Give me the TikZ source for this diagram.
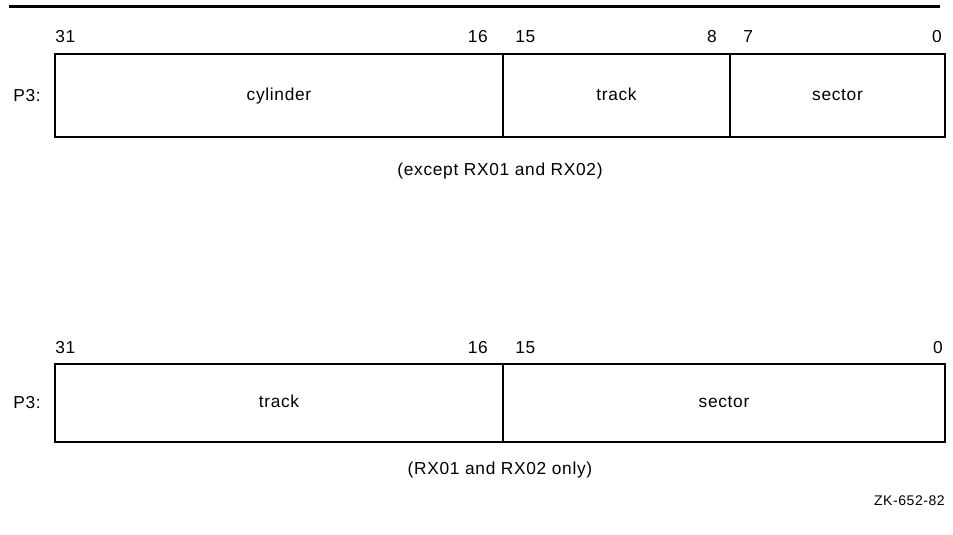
\documentclass[tikz,border=0pt]{standalone}
\usepackage{fontspec}
\setmainfont{Liberation Sans}[LetterSpace=4]
\usetikzlibrary{positioning}
\tikzset{
  field/.style={draw,line width=1.5pt,inner sep=0pt,outer sep=0pt,
    minimum height=#1,text height=9pt,text depth=2pt,
    font=\fontsize{13}{15}\selectfont},
  bit/.style={inner sep=0pt,font=\fontsize{13}{15}\selectfont},
  caption/.style={inner sep=0pt,font=\fontsize{13}{15}\selectfont},
  rule/.style={line width=2.25pt}
}

\begin{document}
\begin{tikzpicture}[x=0.75pt,y=-0.75pt]
  \useasboundingbox (0,0) rectangle (953,535);

  % top rule
  \coordinate (r1) at (9,7);
  \coordinate (r2) at (940,7);
  \draw[rule] (r1) -- (r2);

  % register layout, all disks but RX01/RX02
  \node[field=62.25pt,minimum width=336pt] (cyl) at (279,95.5) {cylinder};
  \node[field=62.25pt,minimum width=170.25pt,right=0pt of cyl] (trk) {track};
  \node[field=62.25pt,minimum width=161.25pt,right=0pt of trk] (sec) {sector};

  \node[bit,anchor=base west] (a31) at (55,43) {31};
  \node[bit,anchor=base east] (a16) at (488,43) {16};
  \node[bit,anchor=base west] (a15) at (515,43) {15};
  \node[bit,anchor=base east] (a8) at (717,43) {8};
  \node[bit,anchor=base west] (a7) at (743,43) {7};
  \node[bit,anchor=base east] (a0) at (942,43) {0};
  \node[bit,anchor=west] (ap3) at (13,95.5) {P3:};
  \node[caption] (acap) at (500,171.5) {(except RX01 and RX02)};

  % register layout, RX01/RX02
  \node[field=58.5pt,minimum width=336pt] (trk2) at (279,403) {track};
  \node[field=58.5pt,minimum width=331.5pt,right=0pt of trk2] (sec2) {sector};

  \node[bit,anchor=base west] (b31) at (55,353) {31};
  \node[bit,anchor=base east] (b16) at (488,353) {16};
  \node[bit,anchor=base west] (b15) at (515,353) {15};
  \node[bit,anchor=base east] (b0) at (943,353) {0};
  \node[bit,anchor=west] (bp3) at (13,403) {P3:};
  \node[caption] (bcap) at (500,470) {(RX01 and RX02 only)};

  \node[caption,anchor=base east,font=\fontsize{10.5}{12}\selectfont] (fig) at (945,505) {ZK-652-82};
\end{tikzpicture}
\end{document}
